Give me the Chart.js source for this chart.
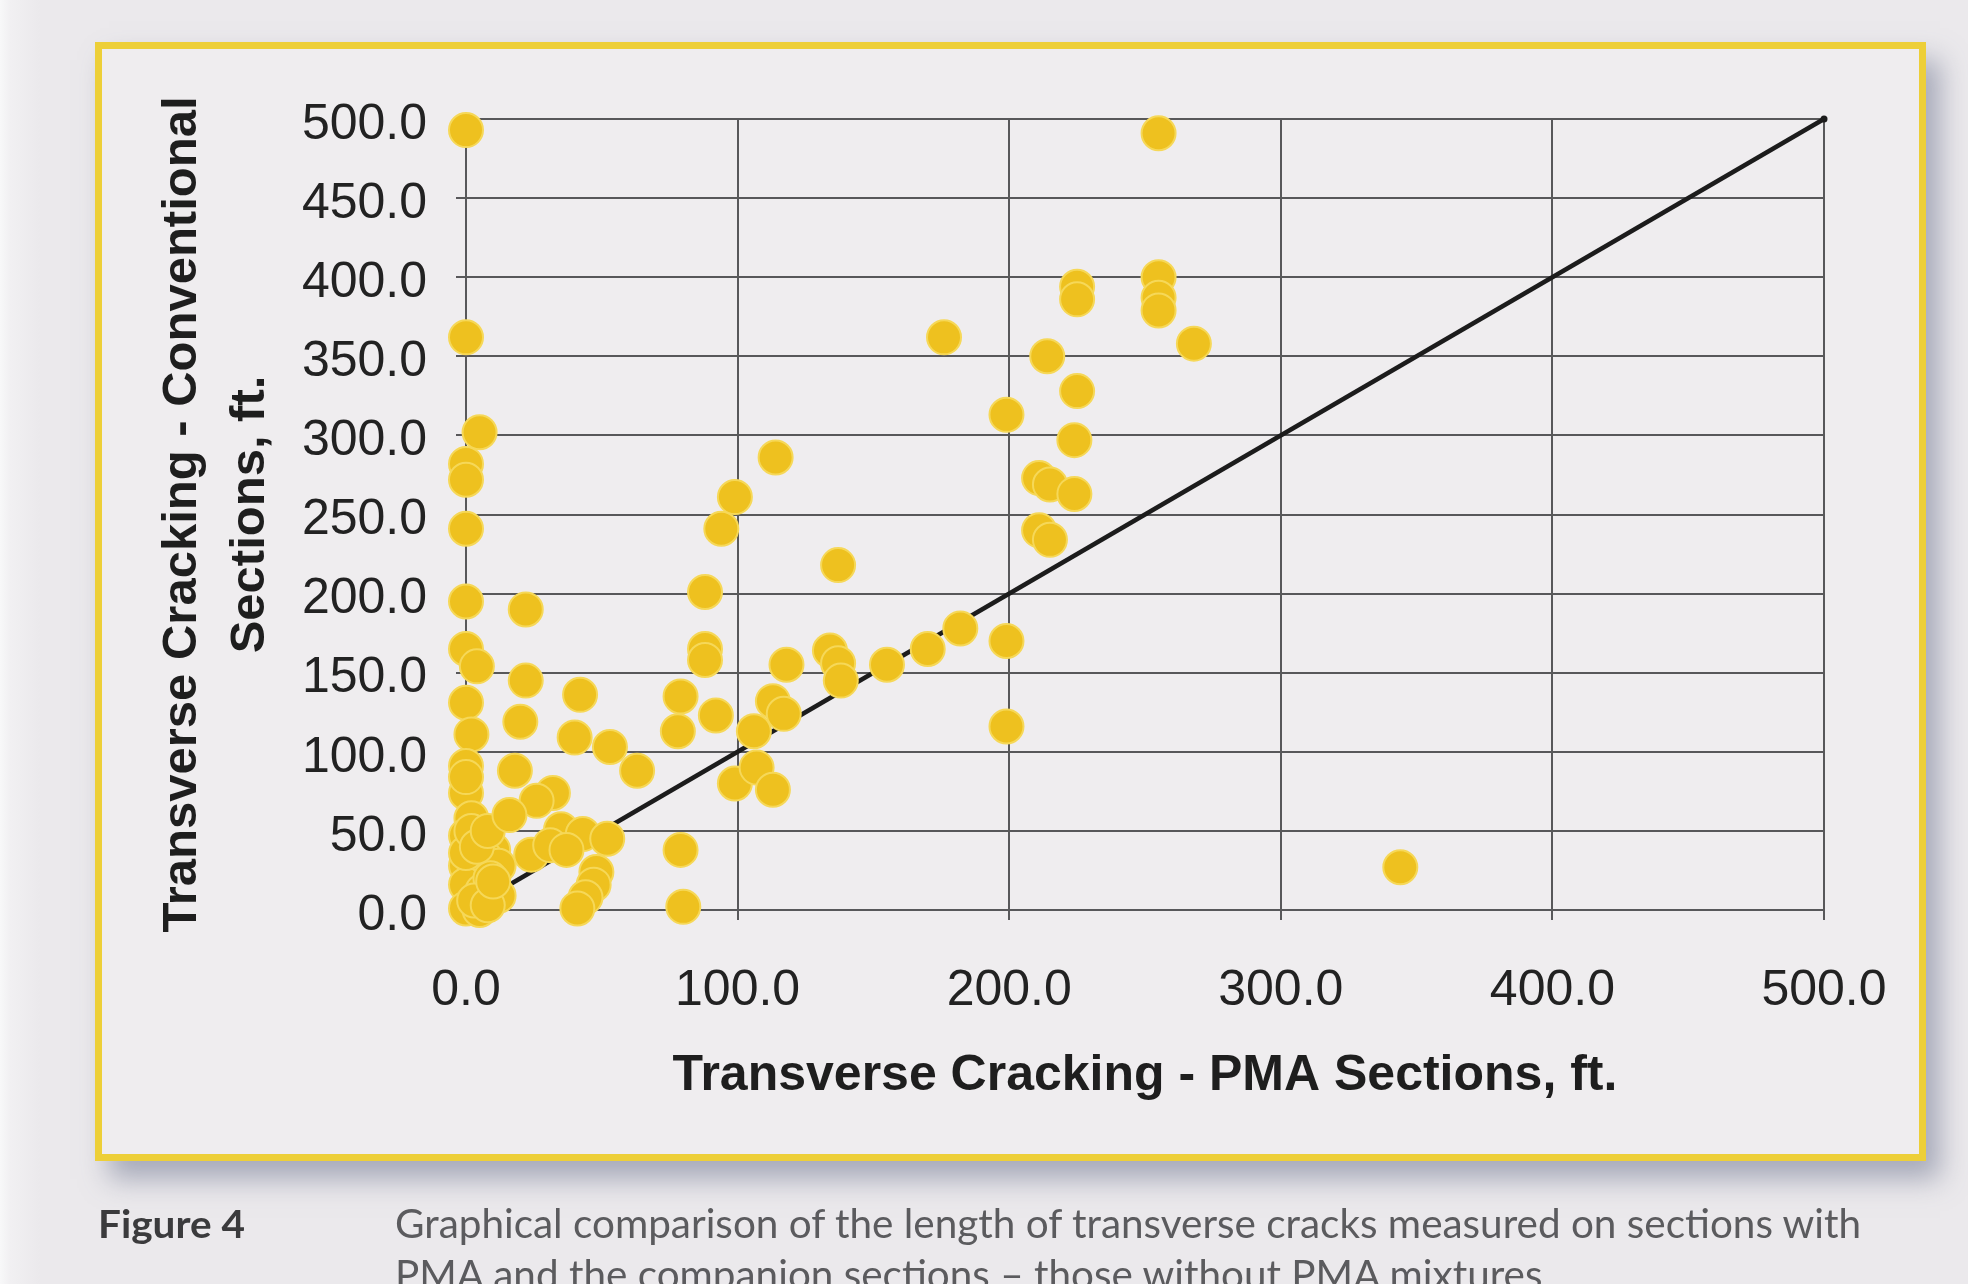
<!DOCTYPE html>
<html>
<head>
<meta charset="utf-8">
<script src="https://cdn.jsdelivr.net/npm/chart.js@4.4.1/dist/chart.umd.min.js"></script>
<style>
  html, body { margin: 0; padding: 0; width: 1968px; height: 1284px; overflow: hidden; background: #ebe9ec; }
  #page { position: absolute; left: 0; top: 0; width: 1968px; height: 1284px;
          background: linear-gradient(90deg, #f8f8f9 0, #f1f0f2 10px, #ebe9ec 40px, #ebe9ec 100%); }
  #frame { position: absolute; left: 95px; top: 42px; width: 1831px; height: 1119px; box-sizing: border-box;
           border: 7px solid #edcf38; background: #efedef;
           box-shadow: 14px 18px 26px rgba(100, 108, 135, 0.5); }
  #chartBox { position: absolute; left: 0; top: 0; width: 1968px; height: 1284px; }
  .cap { position: absolute; white-space: nowrap; font-family: Lato, "Open Sans", sans-serif;
         transform-origin: 0 0; line-height: 51px; }
  #figLabel { left: 98px; top: 1198px; font-size: 39px; font-weight: 700; color: #3b3b3d; }
  #capLine1 { left: 395px; top: 1198px; font-size: 40px; color: #5b5b5e; }
  #capLine2 { left: 395px; top: 1249px; font-size: 40px; color: #5b5b5e; }
</style>
</head>
<body>
<div id="page"></div>
<div id="frame"></div>
<div id="chartBox"><canvas id="crackChart" width="1968" height="1284"></canvas></div>
<div class="cap" id="figLabel" data-w="147">Figure 4</div>
<div class="cap" id="capLine1" data-w="1466">Graphical comparison of the length of transverse cracks measured on sections with</div>
<div class="cap" id="capLine2" data-w="1157">PMA and the companion sections – those without PMA mixtures.</div>
<script>
// Crack length on PMA sections (x) vs. companion conventional sections (y), ft.
const pmaLength = [
  0, 0, 5, 0, 0, 0, 0, 0, 4, 0, 2, 0, 0, 2, 0, 5, 10, 7, 0, 12, 3, 0, 6, 12, 0, 5, 0, 2, 9,
  3, 8, 10, 4, 8, 0,
  22, 22, 42, 20, 40, 53, 63, 18, 32, 26, 16, 35, 43, 52, 24, 31, 37, 48, 47, 44, 41,
  79, 78, 92, 79, 80, 88, 88, 88, 94, 99, 114, 99, 107, 113, 106, 113, 117, 118, 134, 137, 138, 137,
  155, 170, 182, 199, 199, 199, 176,
  211, 215, 224, 211, 215, 214, 225, 224, 225, 225, 255, 255, 255, 255, 268, 344
];
const conventionalLength = [
  493, 362, 302, 282, 272, 241, 195, 165, 154, 131, 111, 91, 74, 58, 47, 42, 38, 33, 28, 28, 22, 16, 12, 9, 1, 0, 36, 50, 20,
  6, 3, 18, 40, 50, 84,
  190, 145, 136, 119, 109, 103, 88, 88, 74, 69, 60, 51, 48, 45, 35, 41, 38, 24, 16, 8, 1,
  135, 113, 123, 38, 2, 201, 165, 158, 241, 261, 286, 80, 90, 76, 113, 132, 124, 155, 164, 156, 145, 218,
  155, 165, 178, 170, 116, 313, 362,
  273, 269, 263, 240, 234, 350, 328, 297, 394, 386, 491, 400, 387, 379, 358, 27
];
// Line of equality
const equalityX = [0, 500];
const equalityY = [0, 500];

const xTickLabels = ['0.0', '100.0', '200.0', '300.0', '400.0', '500.0'];
const yTickLabels = ['0.0', '50.0', '100.0', '150.0', '200.0', '250.0', '300.0', '350.0', '400.0', '450.0', '500.0'];

const xTitle = 'Transverse Cracking - PMA Sections, ft.';
const yTitle = ['Transverse Cracking - Conventional', 'Sections, ft.'];

const crackPoints = pmaLength.map((x, i) => ({ x, y: conventionalLength[i] }));
const equalityPoints = equalityX.map((x, i) => ({ x, y: equalityY[i] }));

const gridColor = '#58585a';
const tickFont = { family: '"Liberation Sans", Arial, sans-serif', size: 50 };
const titleFont = { family: '"Liberation Sans", Arial, sans-serif', size: 50, weight: 'bold' };

new Chart(document.getElementById('crackChart'), {
  type: 'scatter',
  data: {
    datasets: [
      {
        data: crackPoints,
        order: 1,
        clip: false,
        pointRadius: 17,
        pointHoverRadius: 17,
        backgroundColor: '#eec11f',
        borderColor: '#f6d858',
        borderWidth: 2
      },
      {
        type: 'line',
        data: equalityPoints,
        order: 2,
        clip: false,
        borderColor: '#1c1c1c',
        borderWidth: 4.5,
        pointRadius: 3.5,
        pointBackgroundColor: '#1c1c1c',
        pointBorderWidth: 0,
        fill: false
      }
    ]
  },
  options: {
    responsive: false,
    animation: false,
    devicePixelRatio: 1,
    layout: { padding: { left: 123, right: 144, top: 119, bottom: 166 } },
    plugins: { legend: { display: false }, tooltip: { enabled: false } },
    scales: {
      x: {
        type: 'linear',
        min: 0, max: 500,
        afterFit: s => { s.height = 208; },
        ticks: { stepSize: 100, padding: 41, color: '#222', font: tickFont,
                 callback: (v, i) => xTickLabels[i] },
        grid: { color: gridColor, lineWidth: 2, tickLength: 10 },
        border: { color: gridColor, width: 2 },
        title: { display: true, text: xTitle, color: '#1e1e1e', font: titleFont,
                 padding: { top: 0, bottom: 12 } }
      },
      y: {
        type: 'linear',
        min: 0, max: 500,
        afterFit: s => { s.width = 343; },
        ticks: { stepSize: 50, padding: 29, color: '#222', font: tickFont, labelOffset: 6,
                 callback: (v, i) => yTickLabels[i] },
        grid: { color: gridColor, lineWidth: 2, tickLength: 10 },
        border: { color: gridColor, width: 2 },
        title: { display: true, text: yTitle, color: '#1e1e1e',
                 font: { family: titleFont.family, size: 49, weight: 'bold', lineHeight: 68 / 49 },
                 padding: { top: 25, bottom: 0 } }
      }
    }
  }
});

// Caption lines are set in a narrow face; stretch each to its column width.
function fitCaption() {
  document.querySelectorAll('.cap').forEach(el => {
    el.style.transform = 'none';
    const w = el.getBoundingClientRect().width;
    const target = parseFloat(el.dataset.w);
    if (w > 0) el.style.transform = 'scaleX(' + (target / w) + ')';
  });
}
fitCaption();
if (document.fonts && document.fonts.ready) document.fonts.ready.then(fitCaption);
</script>
</body>
</html>
